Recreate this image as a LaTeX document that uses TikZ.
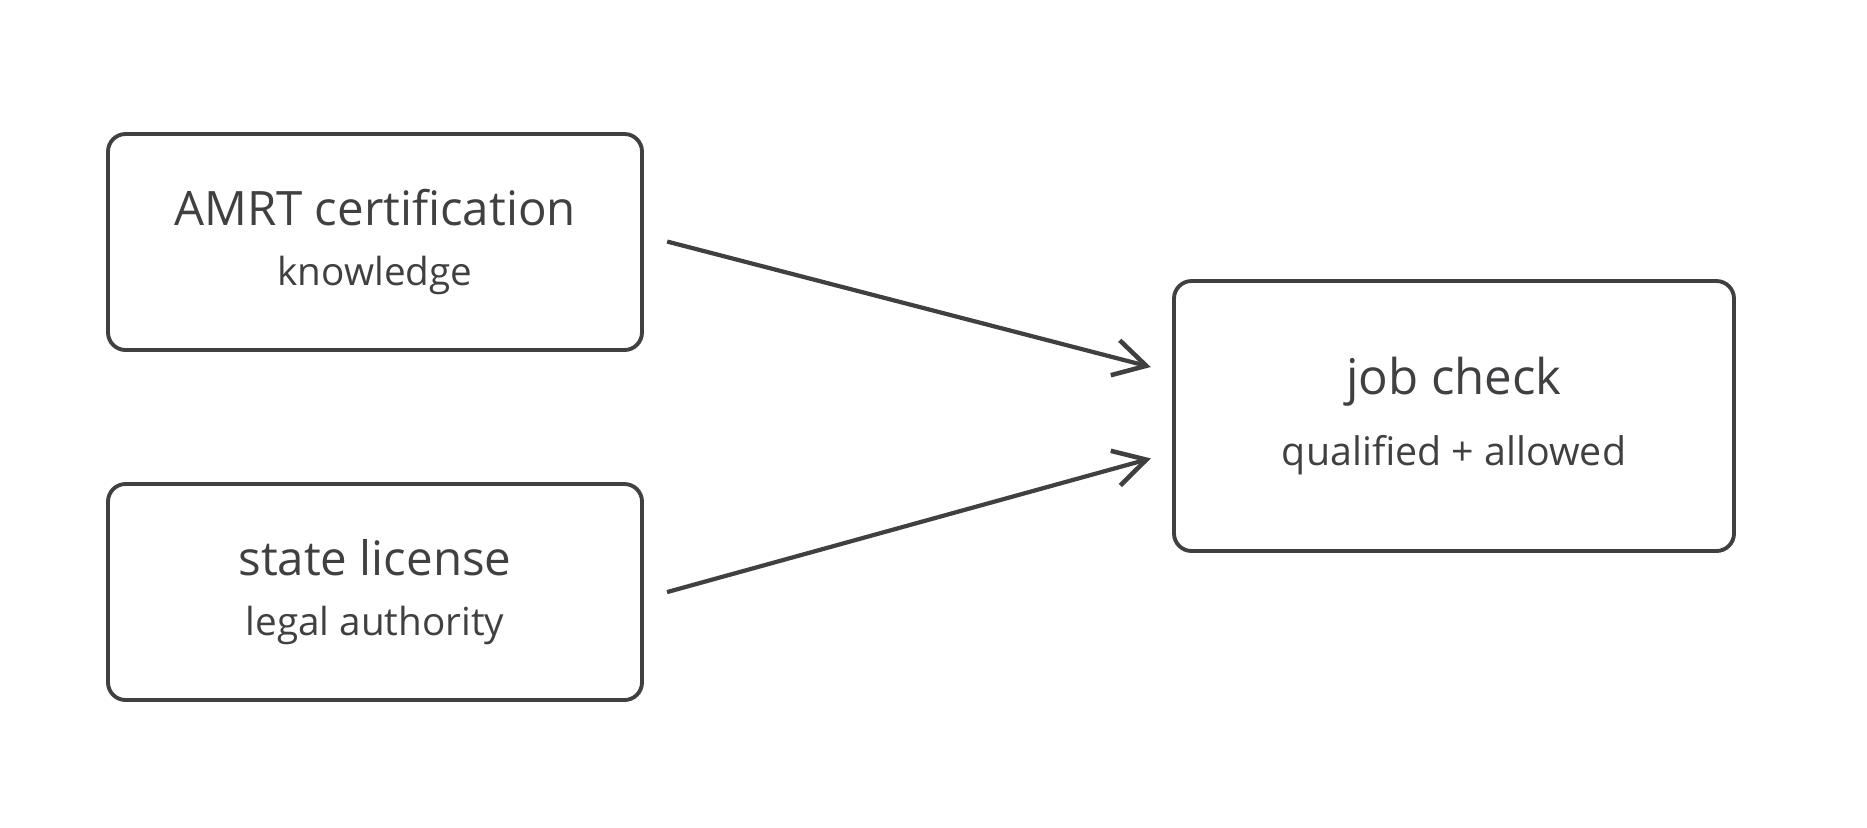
\documentclass[tikz,border=0pt]{standalone}
\usepackage{fontspec}
\setmainfont{Open Sans}
\usepackage{tikz}
\usetikzlibrary{arrows.meta}
\definecolor{ink}{HTML}{404043}

\begin{document}
\begin{tikzpicture}[x=1cm, y=-1cm, outer sep = 0pt]

\tikzstyle{card}=[draw=ink, line width=1.1pt, rounded corners=5pt, rectangle, anchor=north west, minimum width=5.34cm, minimum height=2.16cm, align=center, text=ink]
\tikzstyle{flow}=[draw=ink, line width=1.2pt, -{Straight Barb[length=3.2mm, width=3.6mm, line width=1.3pt]}, shorten <=0.26cm, shorten >=0.24cm]
\useasboundingbox (0,0) rectangle (18.67,8.27);

\node[card] (cert) at (1.08,1.34) {{\fontsize{13.5}{16}\selectfont AMRT certification}\\[5pt]{\fontsize{11}{13}\selectfont knowledge}};
\node[card] (lic) at (1.08,4.84) {{\fontsize{13.5}{16}\selectfont state license}\\[5pt]{\fontsize{11}{13}\selectfont legal authority}};
\node[card, minimum width=5.60cm, minimum height=2.70cm] (job) at (11.74,2.81) {{\fontsize{14}{17}\selectfont job check}\\[8pt]{\fontsize{11.2}{13}\selectfont qualified + allowed}};

\draw[flow] ([yshift=0.07cm]cert.east) -- ([yshift=0.43cm]job.west);
\draw[flow] ([yshift=-0.07cm]lic.east) -- ([yshift=-0.36cm]job.west);

\end{tikzpicture}
\end{document}
